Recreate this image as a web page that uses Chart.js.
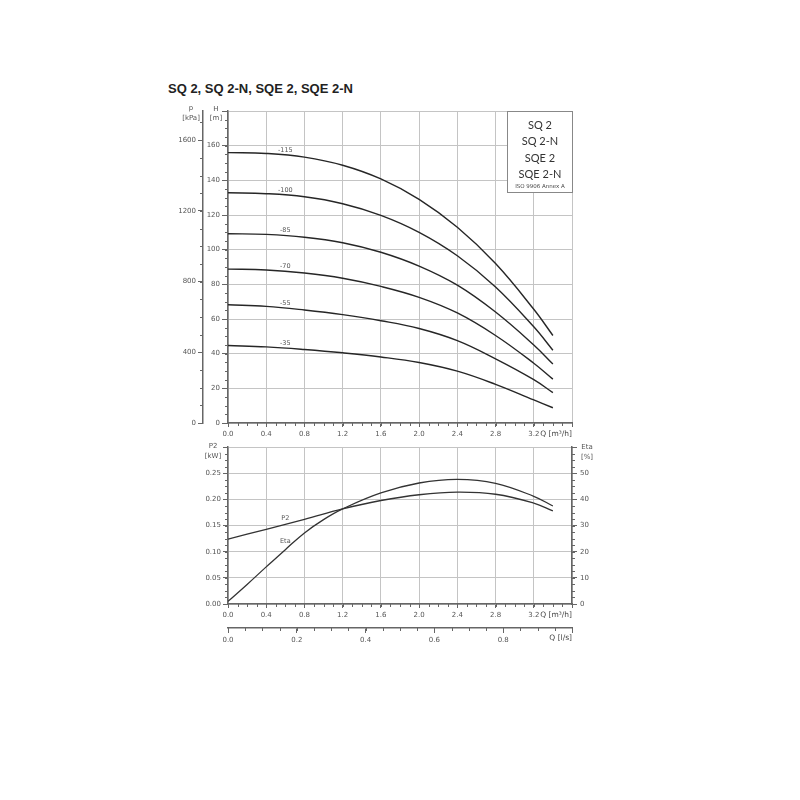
<!DOCTYPE html>
<html><head><meta charset="utf-8">
<script src="https://cdn.jsdelivr.net/npm/chart.js@4"></script>
<style>
html,body{margin:0;padding:0;background:#fff;width:800px;height:800px;overflow:hidden}
#title{position:absolute;left:168px;top:81px;font:bold 13px "Liberation Sans",Arial,sans-serif;color:#222;white-space:nowrap}
#c1{position:absolute;left:0;top:0}
#c2{position:absolute;left:0;top:440px}
</style></head><body>
<div id="title">SQ 2, SQ 2-N, SQE 2, SQE 2-N</div>
<canvas id="c1" width="800" height="445"></canvas>
<canvas id="c2" width="800" height="220"></canvas>
<script>
// ---- data ----
const flowQ = [0, 0.4, 0.8, 1.2, 1.6, 2.0, 2.4, 2.8, 3.2, 3.4];
const stageNames = ['-115', '-100', '-85', '-70', '-55', '-35'];
const head115 = [156, 155.5, 153.4, 148.7, 140.8, 129, 112.9, 92, 65.6, 50.5];
const head100 = [132.8, 132.3, 130.5, 126.5, 119.8, 110, 96.5, 78.5, 55.5, 42];
const head85 = [109.2, 108.8, 107.2, 104, 98.5, 90.5, 79.5, 64, 45, 34];
const head70 = [88.8, 88.3, 86.5, 83.5, 78.8, 72.5, 63.5, 50.5, 34.5, 25.3];
const head55 = [68.2, 67.3, 65.2, 62.5, 59, 54.5, 47.5, 37, 25, 17.5];
const head35 = [44.7, 43.9, 42.4, 40.5, 38.1, 34.9, 29.9, 22.3, 13.3, 8.8];
const p2Kw = [0.124, 0.143, 0.162, 0.182, 0.198, 0.209, 0.214, 0.210, 0.193, 0.178];
const effQ = [0, 0.2, 0.4, 0.6, 0.8, 1.0, 1.2, 1.6, 2.0, 2.4, 2.8, 3.2, 3.4];
const etaPct = [1, 7.5, 14.2, 20.8, 27.2, 32.3, 36.4, 42.5, 46.3, 47.7, 46.2, 41.2, 37.5];
const qTicks = [0, 0.4, 0.8, 1.2, 1.6, 2.0, 2.4, 2.8, 3.2, 3.6];
const hTicks = [0, 20, 40, 60, 80, 100, 120, 140, 160, 180];
const pTicks = [0, 400, 800, 1200, 1600];
const p2Ticks = [0, 0.05, 0.10, 0.15, 0.20, 0.25, 0.30];
const etaTicks = [0, 10, 20, 30, 40, 50, 60];
const lsTicks = [0, 0.2, 0.4, 0.6, 0.8, 1.0];
const legendLines = ['SQ 2', 'SQ 2-N', 'SQE 2', 'SQE 2-N'];
const legendNote = 'ISO 9906 Annex A';
const curveNames = ['P2', 'Eta'];

// ---- styles ----
const TF = {family: 'DejaVu Sans', size: 7};
const TC = '#555';
const GRID = '#c4c4c4';
const AX = '#666';
const headSeries = [head115, head100, head85, head70, head55, head35];

function pts(xs, ys) { return ys.map((v, i) => ({x: xs[i], y: v})); }
function setTicks(list) { return s => { s.ticks = list.map(v => ({value: v})); }; }
function txt(ctx, s, x, y, font, align, color) {
  ctx.save(); ctx.font = font; ctx.textAlign = align || 'center';
  ctx.textBaseline = 'middle'; ctx.fillStyle = color || '#444';
  ctx.fillText(s, x, y); ctx.restore();
}
function minor(chart, id, step, len, side) {
  const s = chart.scales[id], ctx = chart.ctx;
  ctx.save(); ctx.strokeStyle = AX; ctx.lineWidth = 1; ctx.beginPath();
  for (let v = s.min; v <= s.max + 1e-9; v += step) {
    const p = Math.round(s.getPixelForValue(v)) + 0.5;
    if (side === 'left') { ctx.moveTo(s.right - len, p); ctx.lineTo(s.right, p); }
    else if (side === 'right') { ctx.moveTo(s.left, p); ctx.lineTo(s.left + len, p); }
    else { ctx.moveTo(p, s.top); ctx.lineTo(p, s.top + len); }
  }
  ctx.stroke(); ctx.restore();
}
const xTickCb = v => (v > 3.5 ? '' : Number(v).toFixed(1));

// ---- top chart ----
const topOverlay = {
  id: 'topOverlay',
  afterDraw(chart) {
    const ctx = chart.ctx;
    minor(chart, 'x', 0.1, 3, 'bottom');
    minor(chart, 'y', 5, 3, 'left');
    minor(chart, 'p', 100, 3, 'left');
    txt(ctx, 'p', 191, 108, '7px "DejaVu Sans"', 'center', TC);
    txt(ctx, '[kPa]', 191, 118, '7px "DejaVu Sans"', 'center', TC);
    txt(ctx, 'H', 216, 109, '7px "DejaVu Sans"', 'center', TC);
    txt(ctx, '[m]', 216, 118, '7px "DejaVu Sans"', 'center', TC);
    txt(ctx, 'Q [m\u00b3/h]', 572, 434, '7.5px "DejaVu Sans"', 'right', '#444');
    chart.data.datasets.forEach((d, i) => {
      const m = chart.getDatasetMeta(i).data;
      const x = (m[1].x + m[2].x) / 2, y = (m[1].y + m[2].y) / 2 - 5;
      txt(ctx, stageNames[i], x, y, '6.5px "DejaVu Sans"', 'center', '#555');
    });
    // legend box
    const xs = chart.scales.x, ys = chart.scales.y;
    const bx = Math.round(xs.getPixelForValue(3.6)) - 65, by = Math.round(ys.getPixelForValue(180));
    ctx.save(); ctx.fillStyle = '#fff'; ctx.fillRect(bx, by, 65, 81);
    ctx.strokeStyle = '#888'; ctx.lineWidth = 1; ctx.strokeRect(bx + 0.5, by + 0.5, 65, 81); ctx.restore();
    legendLines.forEach((s, i) => txt(ctx, s, bx + 33, by + 14 + i * 16.5, '11px Lato', 'center', '#333'));
    txt(ctx, legendNote, bx + 33, by + 76, '5.5px "DejaVu Sans"', 'center', '#444');
  }
};

new Chart(document.getElementById('c1'), {
  type: 'line',
  data: {
    datasets: headSeries.map((h, i) => ({
      label: stageNames[i], data: pts(flowQ, h), borderColor: '#262626', borderWidth: 1.4,
      pointRadius: 0, tension: 0.4, fill: false
    }))
  },
  options: {
    responsive: false, animation: false, devicePixelRatio: 1,
    layout: {padding: {left: 163, right: 228, top: 111, bottom: 2}},
    plugins: {legend: {display: false}, tooltip: {enabled: false}},
    scales: {
      x: {type: 'linear', position: 'bottom', min: 0, max: 3.6, weight: 0,
        afterBuildTicks: setTicks(qTicks), afterFit: s => { s.height = 20; },
        ticks: {callback: xTickCb, font: TF, color: TC, maxRotation: 0, autoSkip: false, padding: 3},
        grid: {color: GRID, tickLength: 4, tickColor: AX}, border: {color: AX, width: 1.5}},
      y: {type: 'linear', position: 'left', min: 0, max: 180, weight: 0,
        afterBuildTicks: setTicks(hTicks), afterFit: s => { s.width = 25; },
        ticks: {callback: v => (v >= 180 ? '' : String(v)), font: TF, color: TC, padding: 2},
        grid: {color: GRID, tickLength: 6, tickColor: AX}, border: {color: AX, width: 1.5}},
      p: {type: 'linear', position: 'left', min: 0, max: 1765, weight: 1,
        afterBuildTicks: setTicks(pTicks), afterFit: s => { s.width = 40; },
        ticks: {callback: v => String(v), font: TF, color: TC, padding: 2},
        grid: {drawOnChartArea: false, tickLength: 5, tickColor: AX}, border: {color: AX, width: 1.5}}
    }
  },
  plugins: [topOverlay]
});

// ---- bottom chart ----
const botOverlay = {
  id: 'botOverlay',
  afterDraw(chart) {
    const ctx = chart.ctx;
    minor(chart, 'x', 0.1, 3, 'bottom');
    minor(chart, 'x2', 0.05, 3, 'bottom');
    minor(chart, 'y', 0.0125, 3, 'left');
    minor(chart, 'y2', 2.5, 3, 'right');
    txt(ctx, 'P2', 213, 6, '7px "DejaVu Sans"', 'center', TC);
    txt(ctx, '[kW]', 213, 16, '7px "DejaVu Sans"', 'center', TC);
    txt(ctx, 'Eta', 587, 7, '7px "DejaVu Sans"', 'center', TC);
    txt(ctx, '[%]', 587, 17, '7px "DejaVu Sans"', 'center', TC);
    txt(ctx, 'Q [m\u00b3/h]', 572, 175, '7.5px "DejaVu Sans"', 'right', '#444');
    txt(ctx, 'Q [l/s]', 572, 198, '7.5px "DejaVu Sans"', 'right', '#444');
    const xs = chart.scales.x, y1 = chart.scales.y, y2 = chart.scales.y2;
    txt(ctx, curveNames[0], xs.getPixelForValue(0.6), y1.getPixelForValue(0.153) - 6, '6.5px "DejaVu Sans"', 'center', '#555');
    txt(ctx, curveNames[1], xs.getPixelForValue(0.6), y2.getPixelForValue(20.8) - 8, '6.5px "DejaVu Sans"', 'center', '#555');
  }
};

new Chart(document.getElementById('c2'), {
  type: 'line',
  data: {
    datasets: [
      {label: curveNames[0], data: pts(flowQ, p2Kw), yAxisID: 'y', borderColor: '#333', borderWidth: 1.3,
        pointRadius: 0, tension: 0.4, fill: false},
      {label: curveNames[1], data: pts(effQ, etaPct), yAxisID: 'y2', borderColor: '#333', borderWidth: 1.3,
        pointRadius: 0, tension: 0.4, fill: false}
    ]
  },
  options: {
    responsive: false, animation: false, devicePixelRatio: 1,
    layout: {padding: {left: 188, right: 188, top: 7, bottom: 7}},
    plugins: {legend: {display: false}, tooltip: {enabled: false}},
    scales: {
      x: {type: 'linear', position: 'bottom', min: 0, max: 3.6, weight: 0,
        afterBuildTicks: setTicks(qTicks), afterFit: s => { s.height = 24; },
        ticks: {callback: xTickCb, font: TF, color: TC, maxRotation: 0, autoSkip: false, padding: 3},
        grid: {color: GRID, tickLength: 4, tickColor: AX}, border: {color: AX, width: 1.5}},
      x2: {type: 'linear', position: 'bottom', min: 0, max: 1.0, weight: 1,
        afterBuildTicks: setTicks(lsTicks), afterFit: s => { s.height = 25; },
        ticks: {callback: v => (v > 0.95 ? '' : Number(v).toFixed(1)), font: TF, color: TC, maxRotation: 0, autoSkip: false, padding: 3},
        grid: {drawOnChartArea: false, tickLength: 5, tickColor: AX}, border: {color: AX, width: 1.5}},
      y: {type: 'linear', position: 'left', min: 0, max: 0.30, weight: 0,
        afterBuildTicks: setTicks(p2Ticks), afterFit: s => { s.width = 40; },
        ticks: {callback: v => (v > 0.29 ? '' : Number(v).toFixed(2)), font: TF, color: TC, padding: 2},
        grid: {color: GRID, tickLength: 5, tickColor: AX}, border: {color: AX, width: 1.5}},
      y2: {type: 'linear', position: 'right', min: 0, max: 60, weight: 0,
        afterBuildTicks: setTicks(etaTicks), afterFit: s => { s.width = 40; },
        ticks: {callback: v => (v >= 60 ? '' : String(v)), font: TF, color: TC, padding: 3},
        grid: {drawOnChartArea: false, tickLength: 5, tickColor: AX}, border: {color: AX, width: 1.5}}
    }
  },
  plugins: [botOverlay]
});
</script>
</body></html>
